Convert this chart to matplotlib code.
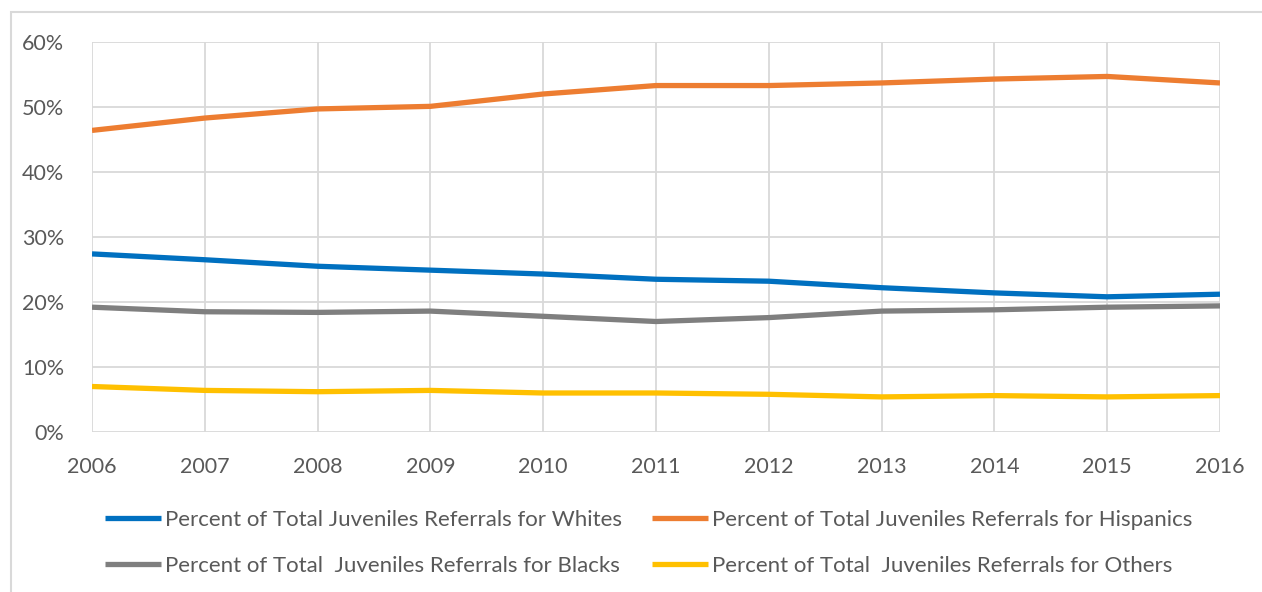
import matplotlib.pyplot as plt
from matplotlib.patches import Rectangle
from matplotlib.ticker import PercentFormatter

years = [2006, 2007, 2008, 2009, 2010, 2011, 2012, 2013, 2014, 2015, 2016]
whites = [27.4, 26.5, 25.5, 24.9, 24.3, 23.5, 23.2, 22.2, 21.4, 20.8, 21.2]
hispanics = [46.4, 48.3, 49.7, 50.1, 52.0, 53.3, 53.3, 53.7, 54.3, 54.7, 53.7]
blacks = [19.2, 18.5, 18.4, 18.6, 17.8, 17.0, 17.6, 18.6, 18.8, 19.2, 19.4]
others = [7.0, 6.4, 6.2, 6.4, 6.0, 6.0, 5.8, 5.4, 5.6, 5.4, 5.6]

labels = ["Percent of Total Juveniles Referrals for Whites",
          "Percent of Total Juveniles Referrals for Hispanics",
          "Percent of Total  Juveniles Referrals for Blacks",
          "Percent of Total  Juveniles Referrals for Others"]
colors = ["#0070C0", "#ED7D31", "#7F7F7F", "#FFC000"]

plt.rcParams['font.family'] = ['Lato', 'DejaVu Sans']

fig = plt.figure(figsize=(12.62, 5.92), dpi=100)
# outer chart border
fig.patches.append(Rectangle((11 / 1262, -0.01), 1.1, 1 - 12 / 592 + 0.01,
                             transform=fig.transFigure, fill=False,
                             edgecolor="#D9D9D9", linewidth=1.5))

ax = fig.add_axes([92 / 1262, 1 - 432 / 592, (1220 - 92) / 1262, (432 - 42) / 592])

lines = []
for vals, c, lab in zip([whites, hispanics, blacks, others], colors, labels):
    ln, = ax.plot(years, vals, color=c, linewidth=3.8, label=lab,
                  solid_capstyle='butt', zorder=3)
    lines.append(ln)

ax.set_xlim(2006, 2016)
ax.set_ylim(0, 60)
ax.set_xticks(years)
ax.set_yticks(range(0, 61, 10))
ax.yaxis.set_major_formatter(PercentFormatter(decimals=0))
ax.grid(True, color="#D9D9D9", linewidth=1.3)
ax.set_axisbelow(True)
for s in ax.spines.values():
    s.set_visible(False)
ax.tick_params(length=0, labelsize=15.5, labelcolor="#595959")
ax.tick_params(axis='x', pad=18)
ax.tick_params(axis='y', pad=20)

# row-major legend order: matplotlib fills columns first
order = [0, 2, 1, 3]
fig.legend(handles=[lines[i] for i in order], loc='center', ncol=2,
           bbox_to_anchor=(0.514, 0.083), frameon=False, fontsize=16,
           labelcolor="#595959", handlelength=2.5, handletextpad=0.2,
           columnspacing=1.35, labelspacing=1.15)

fig.savefig("out.png", dpi=100)
